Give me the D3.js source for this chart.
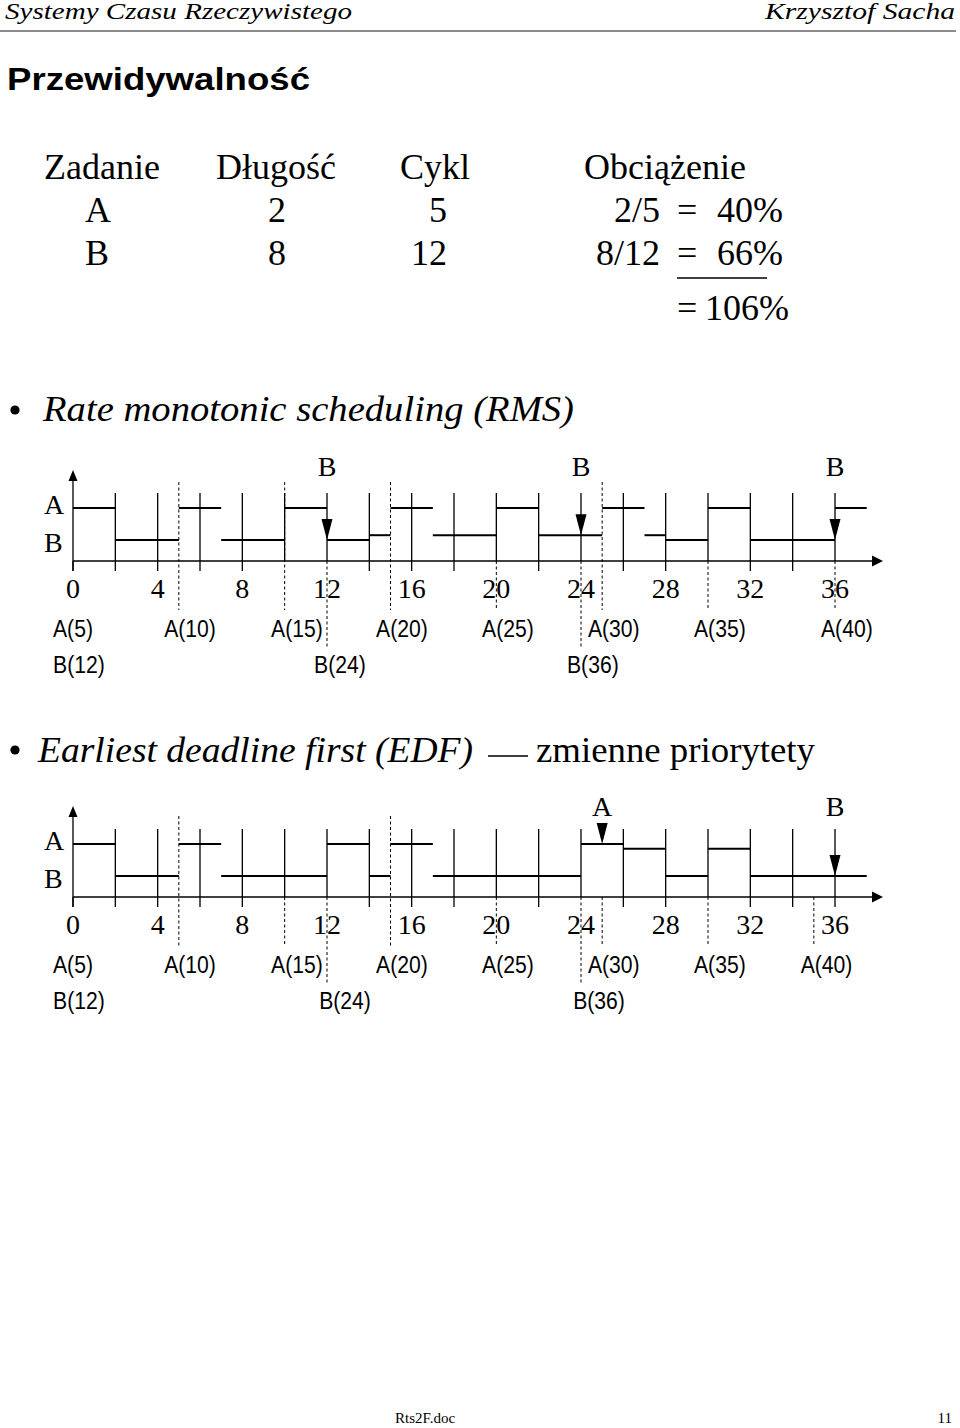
<!DOCTYPE html>
<html>
<head>
<meta charset="utf-8">
<script src="https://cdn.jsdelivr.net/npm/d3@7"></script>
<style>
  html, body { margin: 0; padding: 0; background: #fff; }
  svg { display: block; }
</style>
</head>
<body>
<svg id="chart" width="960" height="1428"></svg>
<script>
// ---------------- DATA ----------------
const timeTicks = [0, 4, 8, 12, 16, 20, 24, 28, 32, 36];
const gridTicks = [2, 4, 6, 8, 10, 12, 14, 16, 18, 20, 22, 24, 26, 28, 30, 32, 34, 36];

// table
const tableHeader = ["Zadanie", "Długość", "Cykl", "Obciążenie"];
const taskNames = ["A", "B"];
const taskLengths = ["2", "8"];
const taskCycles = ["5", "12"];
const taskFractions = ["2/5", "8/12"];
const taskLoads = ["40%", "66%"];
const totalLoad = "106%";

// RMS schedule: [start, end, level]  (level 1 = row A, 0 = row B)
const rmsA = [[0, 2, 1], [5, 7, 1], [10, 12, 1], [15, 17, 1], [20, 22, 1], [25, 27, 1], [30, 32, 1], [36, 37.5, 1]];
const rmsB = [[2, 5, 0], [7, 10, 0], [12, 14, 0], [14, 15, 0.15], [17, 20, 0.15], [22, 25, 0.15], [27, 28, 0.15], [28, 30, 0], [32, 36, 0]];
const rmsArrows = [[12, 0, "B"], [24, 0.15, "B"], [36, 0, "B"]];
const rmsDashFull = [5, 10, 15, 25];
const rmsDashBelow = [20, 30, 36];
const rmsDashLong = [12, 24];
const rmsALabels = [[0, "A(5)"], [5.53, "A(10)"], [10.58, "A(15)"], [15.54, "A(20)"], [20.55, "A(25)"], [25.55, "A(30)"], [30.56, "A(35)"], [36.56, "A(40)"]];
const rmsBLabels = [[0.28, "B(12)"], [12.61, "B(24)"], [24.56, "B(36)"]];

// EDF schedule
const edfA = [[0, 2, 1], [5, 7, 1], [12, 14, 1], [15, 17, 1], [24, 26, 1], [26, 28, 0.85], [30, 32, 0.85]];
const edfB = [[2, 5, 0], [7, 12, 0], [14, 15, 0], [17, 24, 0], [28, 30, 0], [32, 37.5, 0]];
const edfArrows = [[25, 1, "A"], [36, 0, "B"]];
const edfDashFull = [5, 15];
const edfDashBelow = [10, 20, 25, 30, 35];
const edfDashLong = [12, 24];
const edfALabels = [[0, "A(5)"], [5.53, "A(10)"], [10.58, "A(15)"], [15.54, "A(20)"], [20.55, "A(25)"], [25.55, "A(30)"], [30.56, "A(35)"], [35.6, "A(40)"]];
const edfBLabels = [[0.28, "B(12)"], [12.85, "B(24)"], [24.85, "B(36)"]];

// ---------------- DRAW ----------------
const svg = d3.select("#chart");
const serif = "'Liberation Serif', 'Times New Roman', serif";
const sans = "'Liberation Sans', Arial, sans-serif";

function fit(sel, w) {
  sel.each(function () {
    this.setAttribute("textLength", w);
    this.setAttribute("lengthAdjust", "spacingAndGlyphs");
  });
  return sel;
}
function squeeze(sel, f) {
  sel.each(function () {
    const L = this.getComputedTextLength();
    this.setAttribute("textLength", L * f);
    this.setAttribute("lengthAdjust", "spacingAndGlyphs");
  });
  return sel;
}

// header
fit(svg.append("text").attr("x", 5).attr("y", 19)
  .attr("font-family", serif).attr("font-style", "italic").attr("font-size", 23)
  .text("Systemy Czasu Rzeczywistego"), 347);
fit(svg.append("text").attr("x", 765).attr("y", 19)
  .attr("font-family", serif).attr("font-style", "italic").attr("font-size", 23)
  .text("Krzysztof Sacha"), 190);
svg.append("line").attr("x1", 0).attr("x2", 956).attr("y1", 31).attr("y2", 31)
  .attr("stroke", "#666").attr("stroke-width", 1.6);

// title
fit(svg.append("text").attr("x", 7).attr("y", 90)
  .attr("font-family", sans).attr("font-weight", "bold").attr("font-size", 32)
  .text("Przewidywalność"), 303);

// table
const tfs = 36;
const headX = [44, 216, 400, 584];
svg.selectAll("text.th").data(tableHeader).join("text").attr("class", "th")
  .attr("x", (d, i) => headX[i]).attr("y", 179)
  .attr("font-family", serif).attr("font-size", tfs).text(d => d);
const rowY = [222, 265];
taskNames.forEach((n, i) => {
  const y = rowY[i];
  svg.append("text").attr("x", 85).attr("y", y).attr("font-family", serif).attr("font-size", tfs).text(n);
  svg.append("text").attr("x", 268).attr("y", y).attr("font-family", serif).attr("font-size", tfs).text(taskLengths[i]);
  svg.append("text").attr("x", 447).attr("y", y).attr("text-anchor", "end").attr("font-family", serif).attr("font-size", tfs).text(taskCycles[i]);
  svg.append("text").attr("x", 660).attr("y", y).attr("text-anchor", "end").attr("font-family", serif).attr("font-size", tfs).text(taskFractions[i]);
  svg.append("text").attr("x", 677).attr("y", y).attr("font-family", serif).attr("font-size", tfs).text("=");
  svg.append("text").attr("x", 783).attr("y", y).attr("text-anchor", "end").attr("font-family", serif).attr("font-size", tfs).text(taskLoads[i]);
});
svg.append("line").attr("x1", 677).attr("x2", 767).attr("y1", 278).attr("y2", 278).attr("stroke", "#000").attr("stroke-width", 1.3);
svg.append("text").attr("x", 677).attr("y", 320).attr("font-family", serif).attr("font-size", tfs).text("=");
svg.append("text").attr("x", 789).attr("y", 320).attr("text-anchor", "end").attr("font-family", serif).attr("font-size", tfs).text(totalLoad);

// bullets / section titles
svg.append("circle").attr("cx", 15).attr("cy", 410).attr("r", 4.6).attr("fill", "#000");
fit(svg.append("text").attr("x", 43).attr("y", 421)
  .attr("font-family", serif).attr("font-style", "italic").attr("font-size", 36)
  .text("Rate monotonic scheduling (RMS)"), 531);

svg.append("circle").attr("cx", 15).attr("cy", 750).attr("r", 4.6).attr("fill", "#000");
fit(svg.append("text").attr("x", 38).attr("y", 762)
  .attr("font-family", serif).attr("font-style", "italic").attr("font-size", 36)
  .text("Earliest deadline first (EDF)"), 435);
svg.append("line").attr("x1", 488).attr("x2", 528).attr("y1", 756).attr("y2", 756).attr("stroke", "#000").attr("stroke-width", 1.3);
fit(svg.append("text").attr("x", 536).attr("y", 762)
  .attr("font-family", serif).attr("font-size", 36)
  .text("zmienne priorytety"), 279);

// ------------- timeline chart -------------
const x = d3.scaleLinear().domain([0, 36]).range([73, 835]);

function timeline(cfg) {
  const o = cfg.offset;
  const g = svg.append("g").attr("transform", `translate(0,${o})`);
  const y = d3.scaleLinear().domain([0, 1]).range([540, 508]);
  const axisY = 561, tickTop = 493, tickBottom = 571;
  const dashTop = 482, dashEnd = 610, dashLongEnd = 647;
  const dashIds = new Set([...cfg.dashFull, ...cfg.dashBelow, ...cfg.dashLong]);

  // x axis with d3 axis (ticks drawn separately)
  const axis = d3.axisBottom(x).tickValues([]).tickSizeOuter(0);
  const ag = g.append("g").attr("transform", `translate(0,${axisY})`).call(axis);
  ag.select(".domain").remove();
  g.append("line").attr("x1", x(0)).attr("x2", 874).attr("y1", axisY).attr("y2", axisY)
    .attr("stroke", "#000").attr("stroke-width", 1.3);
  g.append("path").attr("d", `M872,${axisY - 5.5}L883,${axisY}L872,${axisY + 5.5}Z`).attr("fill", "#000");

  // y axis
  g.append("line").attr("x1", x(0)).attr("x2", x(0)).attr("y1", tickBottom).attr("y2", 478)
    .attr("stroke", "#000").attr("stroke-width", 1.3);
  g.append("path").attr("d", `M${x(0) - 4.5},481L${x(0)},${cfg.arrowTip}L${x(0) + 4.5},481Z`).attr("fill", "#000");

  // grid ticks (solid)
  g.selectAll("line.tick-up").data(gridTicks).join("line").attr("class", "tick-up")
    .attr("x1", d => x(d)).attr("x2", d => x(d)).attr("y1", tickTop).attr("y2", axisY)
    .attr("stroke", "#000").attr("stroke-width", 1.3);
  g.selectAll("line.tick-dn").data([0, ...gridTicks].filter(d => !dashIds.has(d))).join("line").attr("class", "tick-dn")
    .attr("x1", d => x(d)).attr("x2", d => x(d)).attr("y1", axisY).attr("y2", tickBottom)
    .attr("stroke", "#000").attr("stroke-width", 1.3);

  // dashed lines
  const dash = "3,2.5";
  g.selectAll("line.df").data(cfg.dashFull).join("line").attr("class", "df")
    .attr("x1", d => x(d)).attr("x2", d => x(d)).attr("y1", dashTop + cfg.dashTopShift).attr("y2", dashEnd)
    .attr("stroke", "#000").attr("stroke-width", 1).attr("stroke-dasharray", dash);
  g.selectAll("line.db").data(cfg.dashBelow).join("line").attr("class", "db")
    .attr("x1", d => x(d)).attr("x2", d => x(d)).attr("y1", axisY).attr("y2", dashEnd)
    .attr("stroke", "#000").attr("stroke-width", 1).attr("stroke-dasharray", dash);
  g.selectAll("line.dl").data(cfg.dashLong).join("line").attr("class", "dl")
    .attr("x1", d => x(d)).attr("x2", d => x(d)).attr("y1", axisY).attr("y2", dashLongEnd)
    .attr("stroke", "#000").attr("stroke-width", 1).attr("stroke-dasharray", dash);

  // schedule segments
  g.selectAll("line.seg").data([...cfg.A, ...cfg.B]).join("line").attr("class", "seg")
    .attr("x1", d => x(d[0])).attr("x2", d => x(d[1])).attr("y1", d => y(d[2])).attr("y2", d => y(d[2]))
    .attr("stroke", "#000").attr("stroke-width", 2);

  // arrows (release marks)
  g.selectAll("path.arr").data(cfg.arrows).join("path").attr("class", "arr")
    .attr("d", d => { const cx = x(d[0]), ty = y(d[1]); return `M${cx - 5.5},${ty - 21}L${cx + 5.5},${ty - 21}L${cx},${ty}Z`; })
    .attr("fill", "#000");
  g.selectAll("text.arrl").data(cfg.arrows).join("text").attr("class", "arrl")
    .attr("x", d => x(d[0])).attr("y", 476 + cfg.arrowLabelShift).attr("text-anchor", "middle")
    .attr("font-family", serif).attr("font-size", 28).text(d => d[2]);

  // row labels
  g.append("text").attr("x", 44).attr("y", 514).attr("font-family", serif).attr("font-size", 28).text("A");
  g.append("text").attr("x", 44).attr("y", 552).attr("font-family", serif).attr("font-size", 28).text("B");

  // time tick labels
  g.selectAll("text.tl").data(timeTicks).join("text").attr("class", "tl")
    .attr("x", d => x(d)).attr("y", 598).attr("text-anchor", "middle")
    .attr("font-family", serif).attr("font-size", 28).text(d => d);

  // deadline labels
  squeeze(g.selectAll("text.al").data(cfg.aLabels).join("text").attr("class", "al")
    .attr("x", d => x(d[0])).attr("y", 637).attr("text-anchor", "middle")
    .attr("font-family", sans).attr("font-size", 23.5).text(d => d[1]), 0.9);
  squeeze(g.selectAll("text.bl").data(cfg.bLabels).join("text").attr("class", "bl")
    .attr("x", d => x(d[0])).attr("y", 673).attr("text-anchor", "middle")
    .attr("font-family", sans).attr("font-size", 23.5).text(d => d[1]), 0.9);
}

timeline({ offset: 0, A: rmsA, B: rmsB, arrows: rmsArrows, dashFull: rmsDashFull, dashBelow: rmsDashBelow,
  dashLong: rmsDashLong, aLabels: rmsALabels, bLabels: rmsBLabels, arrowTip: 470, dashTopShift: 0, arrowLabelShift: 0 });
timeline({ offset: 336, A: edfA, B: edfB, arrows: edfArrows, dashFull: edfDashFull, dashBelow: edfDashBelow,
  dashLong: edfDashLong, aLabels: edfALabels, bLabels: edfBLabels, arrowTip: 470, dashTopShift: -2, arrowLabelShift: 4 });

// footer
svg.append("text").attr("x", 395).attr("y", 1423).attr("font-family", serif).attr("font-size", 15).text("Rts2F.doc");
svg.append("text").attr("x", 952).attr("y", 1423).attr("text-anchor", "end").attr("font-family", serif).attr("font-size", 15).text("11");
</script>
</body>
</html>
